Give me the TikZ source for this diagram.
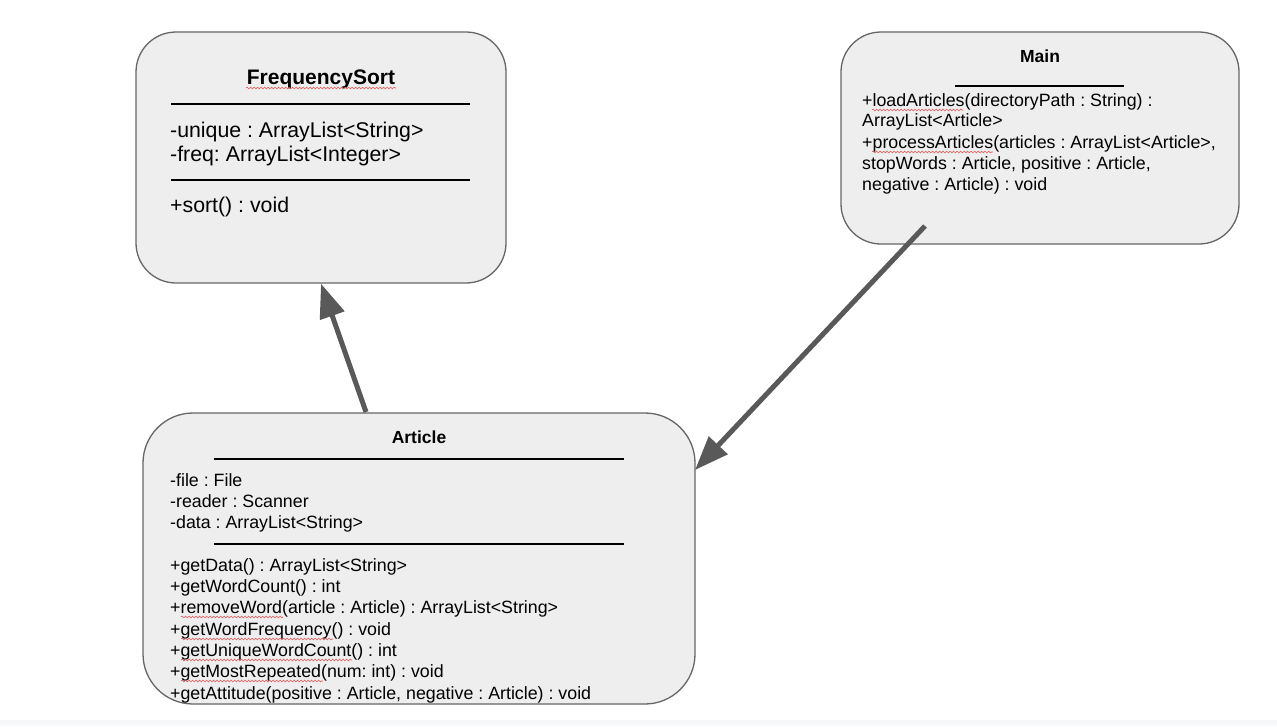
\documentclass[tikz,border=0pt]{standalone}
\usepackage{fontspec}
\setmainfont{Liberation Sans}
\usetikzlibrary{arrows.meta,decorations.pathmorphing}
\definecolor{boxfill}{HTML}{EEEEEE}
\definecolor{boxline}{HTML}{666666}
\definecolor{arrowc}{HTML}{595959}
\definecolor{squig}{HTML}{E05555}
\definecolor{bandc}{HTML}{F7F8FA}
\frenchspacing
\begin{document}
\frenchspacing
\begin{tikzpicture}[x=1pt,y=-1pt,
  classbox/.style={draw=boxline, fill=boxfill, line width=1.3pt, rounded corners=#1, inner sep=0pt},
  classbox/.default=40pt,
  body/.style={anchor=base west, inner sep=0pt, font=\frenchspacing\fontsize{17.8}{21}\selectfont},
  bigbody/.style={anchor=base west, inner sep=0pt, font=\frenchspacing\fontsize{21.3}{24}\selectfont},
  title/.style={anchor=base, inner sep=0pt, font=\bfseries\fontsize{17.5}{21}\selectfont},
  bigtitle/.style={anchor=base, inner sep=0pt, font=\bfseries\fontsize{21}{24}\selectfont},
  sep/.style={black, line width=2pt},
  assoc/.style={draw=arrowc, line width=5pt, -{Triangle[length=34pt,width=25pt]}},
  squiggle/.style={draw=squig, line width=0.6pt, decorate, decoration={snake, amplitude=0.9pt, segment length=3.5pt}}]

\useasboundingbox (0,0) rectangle (1277,726);
\fill[white] (0,0) rectangle (1277,726);
\fill[bandc] (0,720) rectangle (1277,726);

% boxes
\node[classbox, minimum width=370pt, minimum height=251pt] (fs) at (321,157.5) {};
\node[classbox, minimum width=398pt, minimum height=212pt] (main) at (1040,138) {};
\node[classbox=50pt, minimum width=552pt, minimum height=291pt] (art) at (419,558.5) {};

% FrequencySort
\node[bigtitle] (fsT) at (321,84) {FrequencySort};
\draw[sep] (171,104) -- (470,104);
\node[bigbody] (fs1) at (170,137) {-unique : ArrayList<String>};
\node[bigbody] (fs2) at (170,161) {-freq: ArrayList<Integer>};
\draw[sep] (171,180) -- (470,180);
\node[bigbody] (fs3) at (170,212) {+sort() : void};
\draw[squiggle] (246,88) -- (396,88);

% Main
\node[title] (mainT) at (1040,62) {Main};
\draw[black, line width=1.6pt] (955,86) -- (1124,86);
\node[body] (m1) at (862,106) {+loadArticles(directoryPath : String) :};
\node[body] (m2) at (862,126) {ArrayList<Article>};
\node[body] (m3) at (862,148) {+processArticles(articles : ArrayList<Article>,};
\node[body] (m4) at (862,169) {stopWords : Article, positive : Article,};
\node[body] (m5) at (862,190) {negative : Article) : void};
\draw[squiggle] (872,110) -- (963,110);
\draw[squiggle] (872,152) -- (993,152);

% Article
\node[title] (artT) at (419,443) {Article};
\draw[sep] (214,459) -- (624,459);
\node[body] (a1) at (170,486) {-file : File};
\node[body] (a2) at (170,507) {-reader : Scanner};
\node[body] (a3) at (170,528) {-data : ArrayList<String>};
\draw[sep] (214,544) -- (624,544);
\node[body] (a4) at (170,571) {+getData() : ArrayList<String>};
\node[body] (a5) at (170,592) {+getWordCount() : int};
\node[body] (a6) at (170,613) {+removeWord(article : Article) : ArrayList<String>};
\node[body] (a7) at (170,635) {+getWordFrequency() : void};
\node[body] (a8) at (170,656) {+getUniqueWordCount() : int};
\node[body] (a9) at (170,677) {+getMostRepeated(num: int) : void};
\node[body] (a10) at (170,699) {+getAttitude(positive : Article, negative : Article) : void};
\draw[squiggle] (181,617) -- (283,617);
\draw[squiggle] (181,639) -- (333,639);
\draw[squiggle] (181,660) -- (352,660);
\draw[squiggle] (181,681) -- (323,681);

% connectors
\coordinate (artTop) at (366,412);
\coordinate (mainTail) at (925,226);
\coordinate (artIn) at (695,470);
\draw[assoc] (artTop) -- (fs.south);
\draw[assoc] (mainTail) -- (artIn);
\end{tikzpicture}
\end{document}
